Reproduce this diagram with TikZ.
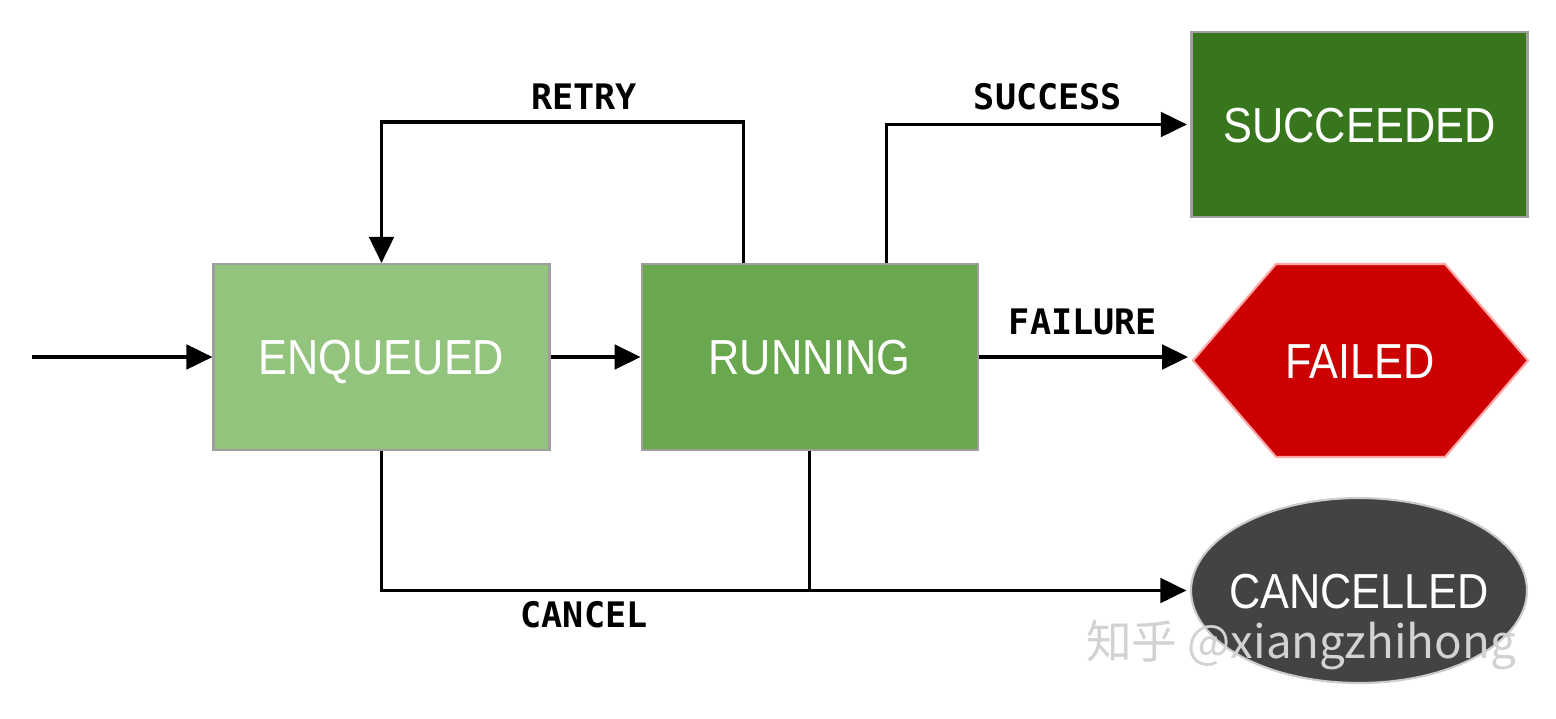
\documentclass[tikz,border=0pt]{standalone}
\usepackage{fontspec}
\usepackage{xcolor}
\usepackage{tikz}
\usetikzlibrary{shapes.geometric}
\usetikzlibrary{shapes.symbols}
\usetikzlibrary{arrows.meta}
\usetikzlibrary{positioning}

\newfontfamily\statefont[FakeStretch=0.88]{Liberation Sans}
\newfontfamily\lblfont{DejaVu Sans Mono}
\newfontfamily\cjk{Noto Sans CJK SC}

\definecolor{enqgreen}{HTML}{93C47D}
\definecolor{rungreen}{HTML}{6AA84F}
\definecolor{okgreen}{HTML}{38761D}
\definecolor{failred}{HTML}{CC0000}
\definecolor{canceldark}{HTML}{434343}

\tikzset{
  state/.style={rectangle, draw=gray!75, line width=0.6pt, text=white,
    font=\statefont\fontsize{14}{16}\selectfont, inner sep=0pt,
    text height=10pt, text depth=0pt,
    minimum width=3.36cm, minimum height=1.86cm},
  edgelbl/.style={font=\lblfont\bfseries\fontsize{10}{12}\selectfont},
  flow/.style={line width=0.9pt, -{Triangle[length=7.4pt,width=7pt]}}
}

\begin{document}
\begin{tikzpicture}
  \useasboundingbox (0,0) rectangle (15.56,7.18);

  % ===== States =====
  \node[state, fill=enqgreen] (enqueued) at (3.815,3.61) {ENQUEUED};
  \node[state, fill=rungreen, right=0.9cm of enqueued] (running) {RUNNING};
  \node[state, fill=okgreen, minimum height=1.85cm] (succeeded) at (13.595,5.935) {SUCCEEDED};
  \node[state, signal, signal to=east and west, signal pointer angle=98.6,
    fill=failred, draw=red!35, minimum width=3.35cm, minimum height=1.93cm] (failed) at (13.605,3.575) {FAILED};
  \node[state, ellipse, fill=canceldark, draw=gray!40, minimum width=3.36cm,
    minimum height=1.85cm] (cancelled) at (13.59,1.275) {\makebox[0pt]{CANCELLED}};

  % entry point
  \coordinate (start) at (0.32,3.61);

  % ===== Transitions =====
  \draw[flow] (start) -- (enqueued.west);
  \draw[flow] (enqueued.east) -- (running.west);
  % retry loop back to the queue
  \draw[flow] ([xshift=-0.66cm]running.north) -- ++(0,1.41) -| (enqueued.north);
  \draw[flow, shorten >=1pt] ([xshift=0.77cm]running.north) |- (succeeded.west);
  \draw[flow, shorten >=1pt] (running.east) -- (running.east -| failed.west);
  % cancel from both states
  \draw[flow, shorten >=1pt] (enqueued.south) |- (cancelled.west);
  \draw[line width=0.9pt] (running.south) -- (running.south |- cancelled.west);

  % labels
  \node[edgelbl] (retrylbl) at (5.84,6.21) {RETRY};
  \node[edgelbl] (successlbl) at (10.48,6.21) {SUCCESS};
  \node[edgelbl] (failurelbl) at (10.83,3.96) {FAILURE};
  \node[edgelbl] (cancellbl) at (5.84,1.03) {CANCEL};

  % watermark
  \node[font=\cjk\fontsize{13}{15}\selectfont, text=gray!35] (mark) at (13.01,0.73) {知乎 @xiangzhihong};
\end{tikzpicture}
\end{document}
